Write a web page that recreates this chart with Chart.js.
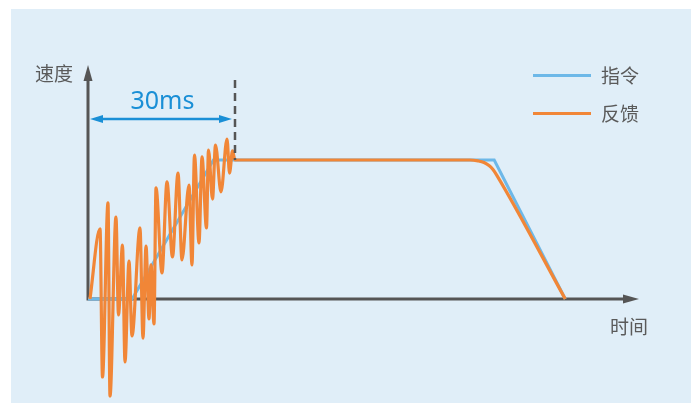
<!DOCTYPE html>
<html>
<head>
<meta charset="utf-8">
<script src="https://cdn.jsdelivr.net/npm/chart.js@4"></script>
<style>
  html, body { margin: 0; padding: 0; background: #ffffff; }
  #wrap { width: 691px; height: 403px; }
</style>
</head>
<body>
<div id="wrap"><canvas id="speed-chart" width="691" height="403"></canvas></div>
<script>
// time in ms, speed in % of the plateau
var commandTime = [0, 9.0, 25.6, 82.9, 97.4];
var commandSpeed = [0, 0, 100, 100, 0];

var feedbackTime = [0.4, 2.45, 2.96, 4.08, 4.49, 5.71, 6.22, 7.04, 7.55, 8.37, 8.98,
    10.61, 11.22, 11.84, 12.45, 12.86, 13.47, 13.88, 15.10, 16.12, 17.24, 18.37,
    19.18, 20.61, 21.22, 21.73, 22.65, 23.27, 24.18, 24.59, 25.41, 26.02, 27.14,
    28.37, 28.88, 29.49, 30.0, 30.6, 77.96, 79.59, 80.82, 81.84, 82.65, 83.47, 97.4];
var feedbackSpeed = [0, 50.4, -56.1, 69.1, -69.8, 59.0, -11.5, 38.8, -45.3, 27.3, -26.6,
    51.1, -28.1, 38.1, -14.4, 24.5, -18.0, 79.9, 18.7, 84.2, 30.2, 90.6,
    28.1, 82.0, 24.5, 103.6, 40.3, 102.2, 51.1, 107.2, 71.9, 110.8, 77.0,
    115.1, 90.6, 106.5, 100, 100, 100, 99.35, 98.2, 96.0, 93.2, 88.8, 0];

var seriesNames = ['指令', '反馈'];
var axisNames = { x: '时间', y: '速度' };
var spanStart = 0, spanEnd = 30, spanLabel = '30ms';

var blue = '#6db8e8';
var orange = '#f18637';
var axisColor = '#555555';
var textColor = '#5a5a5a';
var cjk = '"Noto Sans CJK SC", "Noto Sans", sans-serif';

function toPoints(xs, ys) {
    return xs.map(function (x, i) { return { x: x, y: ys[i] }; });
}

function arrowHead(ctx, tipX, tipY, dx, dy, len, half) {
    // dx,dy = unit direction the arrow points to
    ctx.beginPath();
    ctx.moveTo(tipX, tipY);
    ctx.lineTo(tipX - dx * len - dy * half, tipY - dy * len + dx * half);
    ctx.lineTo(tipX - dx * len + dy * half, tipY - dy * len - dx * half);
    ctx.closePath();
    ctx.fill();
}

var decor = {
    id: 'decor',
    beforeDraw: function (chart) {
        var ctx = chart.ctx;
        ctx.save();
        ctx.fillStyle = '#e0eef8';
        ctx.fillRect(11, 9, chart.width - 11, chart.height - 9);
        ctx.restore();
    },
    beforeDatasetsDraw: function (chart) {
        var ctx = chart.ctx, a = chart.chartArea;
        var x0 = chart.scales.x.getPixelForValue(0);
        var y0 = chart.scales.y.getPixelForValue(0);
        ctx.save();
        ctx.strokeStyle = axisColor;
        ctx.fillStyle = axisColor;
        ctx.lineWidth = 3;
        ctx.beginPath();
        ctx.moveTo(x0, y0 + 1.5);
        ctx.lineTo(x0, a.top + 10);
        ctx.moveTo(x0 - 1.5, y0);
        ctx.lineTo(a.right - 10, y0);
        ctx.stroke();
        arrowHead(ctx, x0, a.top, 0, -1, 16, 4.5);
        arrowHead(ctx, a.right, y0, 1, 0, 16, 4.5);

        ctx.fillStyle = textColor;
        ctx.font = '19px ' + cjk;
        ctx.textBaseline = 'middle';
        ctx.textAlign = 'right';
        ctx.fillText(axisNames.y, x0 - 15, a.top + 9);
        ctx.textAlign = 'center';
        ctx.fillText(axisNames.x, a.right - 10, y0 + 28);
        ctx.restore();
    },
    afterDatasetsDraw: function (chart) {
        var ctx = chart.ctx;
        var xs = chart.scales.x, ys = chart.scales.y;
        var xa = xs.getPixelForValue(spanStart) + 2;
        var xb = xs.getPixelForValue(spanEnd);
        var yArrow = ys.getPixelForValue(129.5);
        ctx.save();
        // dashed marker at the end of the span
        ctx.strokeStyle = axisColor;
        ctx.lineWidth = 2.5;
        ctx.setLineDash([8, 5]);
        ctx.beginPath();
        ctx.moveTo(xb, ys.getPixelForValue(157.5));
        ctx.lineTo(xb, ys.getPixelForValue(100));
        ctx.stroke();
        ctx.setLineDash([]);
        // double arrow
        var c = '#1a8fd6';
        ctx.strokeStyle = c;
        ctx.fillStyle = c;
        ctx.lineWidth = 2.4;
        ctx.beginPath();
        ctx.moveTo(xa + 6, yArrow);
        ctx.lineTo(xb - 9, yArrow);
        ctx.stroke();
        arrowHead(ctx, xa, yArrow, -1, 0, 13, 4);
        arrowHead(ctx, xb - 3, yArrow, 1, 0, 13, 4);
        ctx.font = '25px "Noto Sans", sans-serif';
        ctx.textAlign = 'center';
        ctx.textBaseline = 'middle';
        ctx.fillText(spanLabel, (xa + xb) / 2, yArrow - 17);
        ctx.restore();
    },
    afterDraw: function (chart) {
        var ctx = chart.ctx;
        var colors = [blue, orange];
        var rows = [75.5, 113.5];
        ctx.save();
        ctx.font = '19px ' + cjk;
        ctx.textBaseline = 'middle';
        ctx.textAlign = 'left';
        for (var i = 0; i < seriesNames.length; i++) {
            ctx.strokeStyle = colors[i];
            ctx.lineWidth = 3;
            ctx.beginPath();
            ctx.moveTo(533, rows[i]);
            ctx.lineTo(591, rows[i]);
            ctx.stroke();
            ctx.fillStyle = textColor;
            ctx.fillText(seriesNames[i], 601, rows[i] + 0.5);
        }
        ctx.restore();
    }
};

new Chart(document.getElementById('speed-chart'), {
    type: 'line',
    data: {
        datasets: [{
            label: seriesNames[0],
            data: toPoints(commandTime, commandSpeed),
            borderColor: blue,
            borderWidth: 3,
            tension: 0,
            clip: false,
            order: 1
        }, {
            label: seriesNames[1],
            data: toPoints(feedbackTime, feedbackSpeed),
            borderColor: orange,
            borderWidth: 3.2,
            cubicInterpolationMode: 'monotone',
            clip: false,
            order: 0
        }]
    },
    options: {
        responsive: false,
        animation: false,
        layout: { padding: { left: 88, right: 52, top: 65, bottom: 104 } },
        scales: {
            x: { type: 'linear', min: 0, max: 112.45, display: false },
            y: { min: 0, max: 168.35, display: false }
        },
        elements: { point: { radius: 0 } },
        plugins: {
            legend: { display: false },
            tooltip: { enabled: false }
        }
    },
    plugins: [decor]
});
</script>
</body>
</html>
